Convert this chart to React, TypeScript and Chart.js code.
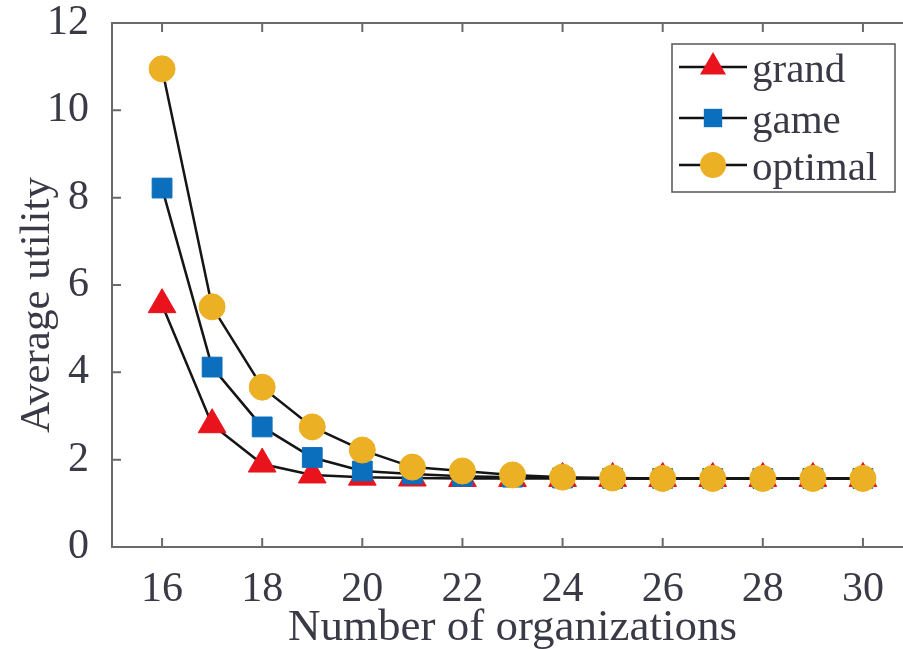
import React, { useEffect, useRef } from "react";
import { Chart, registerables } from "chart.js";

Chart.register(...registerables);

const orgCounts = [16, 17, 18, 19, 20, 21, 22, 23, 24, 25, 26, 27, 28, 29, 30];
const grandValues = [5.55, 2.8, 1.9, 1.65, 1.6, 1.58, 1.57, 1.57, 1.57, 1.57, 1.57, 1.57, 1.57, 1.57, 1.57];
const gameValues = [8.22, 4.12, 2.75, 2.05, 1.74, 1.67, 1.62, 1.6, 1.58, 1.57, 1.57, 1.57, 1.57, 1.57, 1.57];
const optimalValues = [10.95, 5.5, 3.66, 2.75, 2.22, 1.83, 1.74, 1.65, 1.6, 1.58, 1.57, 1.57, 1.57, 1.57, 1.57];
const xTickValues = [16, 18, 20, 22, 24, 26, 28, 30];
const yTickValues = [0, 2, 4, 6, 8, 10, 12];
const seriesLabels = ["grand", "game", "optimal"];
const xTitle = "Number of organizations";
const yTitle = "Average utility";

const FONT = "'Liberation Serif'";
const TEXT = "#3a3a46";
const FRAME = "#6a6a6a";

const framePlugin = {
  id: "frame",
  beforeDatasetsDraw(chart: any) {
    const { ctx, chartArea: a, scales } = chart;
    ctx.save();
    ctx.strokeStyle = FRAME;
    ctx.lineWidth = 2;
    ctx.strokeRect(a.left, a.top, a.right - a.left, a.bottom - a.top);
    const tl = 9;
    ctx.beginPath();
    for (const v of xTickValues) {
      const x = scales.x.getPixelForValue(v);
      ctx.moveTo(x, a.bottom);
      ctx.lineTo(x, a.bottom - tl);
      ctx.moveTo(x, a.top);
      ctx.lineTo(x, a.top + tl);
    }
    for (const v of yTickValues) {
      const y = scales.y.getPixelForValue(v);
      ctx.moveTo(a.left, y);
      ctx.lineTo(a.left + tl, y);
      ctx.moveTo(a.right, y);
      ctx.lineTo(a.right - tl, y);
    }
    ctx.stroke();
    ctx.fillStyle = TEXT;
    ctx.textAlign = "center";
    ctx.textBaseline = "alphabetic";
    // x-axis title, centred on the plot area
    ctx.font = "45px 'Liberation Serif'";
    ctx.fillText(xTitle, (a.left + a.right) / 2, 640);
    // y-axis title
    ctx.font = "43px 'Liberation Serif'";
    ctx.translate(49, 305);
    ctx.rotate(-Math.PI / 2);
    ctx.fillText(yTitle, 0, 0);
    ctx.restore();
  },
};

function drawMarker(ctx: CanvasRenderingContext2D, style: string, r: number, x: number, y: number) {
  ctx.beginPath();
  if (style === "circle") ctx.arc(x, y, r, 0, Math.PI * 2);
  else if (style === "rect") ctx.rect(x - r * 0.707, y - r * 0.707, r * 1.414, r * 1.414);
  else {
    ctx.moveTo(x, y - r);
    ctx.lineTo(x + r * 0.866, y + r * 0.5);
    ctx.lineTo(x - r * 0.866, y + r * 0.5);
    ctx.closePath();
  }
  ctx.fill();
}

const legendPlugin = {
  id: "customLegend",
  afterDraw(chart: any) {
    const { ctx } = chart;
    const box = { x: 672, y: 44, w: 223, h: 148 };
    ctx.save();
    ctx.fillStyle = "#ffffff";
    ctx.fillRect(box.x, box.y, box.w, box.h);
    ctx.strokeStyle = "#555555";
    ctx.lineWidth = 1.5;
    ctx.strokeRect(box.x, box.y, box.w, box.h);
    const rows = [67, 118, 165];
    chart.data.datasets.forEach((ds: any) => {
      const idx = seriesLabels.indexOf(ds.label);
      const y = rows[idx];
      ctx.strokeStyle = "#111111";
      ctx.lineWidth = 2.5;
      ctx.beginPath();
      ctx.moveTo(679, y);
      ctx.lineTo(747, y);
      ctx.stroke();
      ctx.fillStyle = ds.pointBackgroundColor;
      const r = idx === 0 ? 15 : 13;
      drawMarker(ctx, ds.pointStyle, r, 713, y);
      ctx.fillStyle = TEXT;
      ctx.font = "41px 'Liberation Serif'";
      ctx.textAlign = "left";
      ctx.textBaseline = "alphabetic";
      ctx.fillText(ds.label, 752, y + 15);
    });
    ctx.restore();
  },
};

const makeData = (vals: number[]) => orgCounts.map((x, i) => ({ x, y: vals[i] }));

export default function App() {
  const ref = useRef<HTMLCanvasElement>(null);
  useEffect(() => {
    if (!ref.current) return;
    const common = {
      borderColor: "#151515",
      borderWidth: 2.5,
      pointBorderWidth: 1,
      tension: 0,
      fill: false,
    };
    const chart = new Chart(ref.current, {
      type: "line",
      data: {
        datasets: [
          {
            ...common,
            label: seriesLabels[0],
            data: makeData(grandValues),
            pointStyle: "triangle",
            pointRadius: 16,
            pointBackgroundColor: "#e8131c",
            pointBorderColor: "#e8131c",
            order: 3,
          },
          {
            ...common,
            label: seriesLabels[1],
            data: makeData(gameValues),
            pointStyle: "rect",
            pointRadius: 14,
            pointBackgroundColor: "#0b6fbd",
            pointBorderColor: "#0b6fbd",
            order: 2,
          },
          {
            ...common,
            label: seriesLabels[2],
            data: makeData(optimalValues),
            pointStyle: "circle",
            pointRadius: 13,
            pointBackgroundColor: "#ebb024",
            pointBorderColor: "#ebb024",
            order: 1,
          },
        ],
      },
      options: {
        animation: false,
        responsive: false,
        events: [],
        layout: { padding: { top: 23, right: 17, left: 0, bottom: 0 } },
        plugins: { legend: { display: false }, tooltip: { enabled: false } },
        scales: {
          x: {
            type: "linear",
            min: 15,
            max: 31,
            grid: { display: false },
            border: { display: false },
            afterBuildTicks: (s: any) => {
              s.ticks = xTickValues.map((v) => ({ value: v }));
            },
            afterFit: (s: any) => {
              s.height = 102;
              s.paddingLeft = 0;
              s.paddingRight = 0;
            },
            ticks: {
              color: TEXT,
              font: { family: FONT, size: 42 },
              padding: 10,
              maxRotation: 0,
              autoSkip: false,
            },
          },
          y: {
            type: "linear",
            min: 0,
            max: 12,
            grid: { display: false },
            border: { display: false },
            afterBuildTicks: (s: any) => {
              s.ticks = yTickValues.map((v) => ({ value: v }));
            },
            afterFit: (s: any) => {
              s.width = 112;
              s.paddingTop = 0;
              s.paddingBottom = 0;
            },
            ticks: {
              color: TEXT,
              font: { family: FONT, size: 42 },
              padding: 15,
            },
          },
        },
      },
      plugins: [framePlugin, legendPlugin],
    } as any);
    return () => chart.destroy();
  }, []);
  return (
    <div style={{ position: "fixed", left: 0, top: 0, width: 903, height: 649, overflow: "hidden", background: "#fff" }}>
      <canvas ref={ref} width={930} height={649} style={{ display: "block" }} />
    </div>
  );
}
